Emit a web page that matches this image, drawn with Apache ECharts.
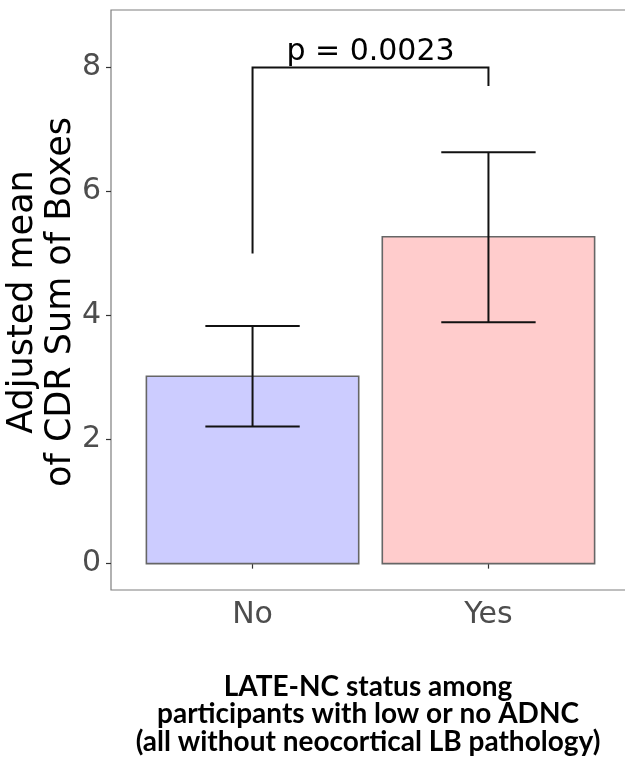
<!DOCTYPE html>
<html>
<head>
<meta charset="utf-8">
<script src="https://cdn.jsdelivr.net/npm/echarts@6/dist/echarts.min.js"></script>
<style>
  html, body { margin: 0; padding: 0; background: #ffffff; }
  #chart { width: 625px; height: 771px; }
</style>
</head>
<body>
<div id="chart"></div>
<script>
// ---- data ----
const categories = ['No', 'Yes'];
const catPos = [1, 2];
const meanValues = [3.02, 5.27];
const errLow = [2.21, 3.89];
const errHigh = [3.83, 6.63];
const barColors = ['#CCCCFF', '#FFCCCC'];
const yTicks = [0, 2, 4, 6, 8];
const bracketX = [1, 2];
const bracketY = [5.0, 8.0, 8.0, 7.7]; // left bottom, left top, right top, right bottom
const pLabel = 'p = 0.0023';
const yTitle = 'Adjusted mean\nof CDR Sum of Boxes';
const xTitle = 'LATE-NC status among\nparticipants with low or no ADNC\n(all without neocortical LB pathology)';

const barWidthUnits = 0.9;
const capWidthUnits = 0.4;
const FONT = 'DejaVu Sans';

const chart = echarts.init(document.getElementById('chart'), null, { renderer: 'canvas' });

const option = {
  animation: false,
  backgroundColor: '#ffffff',
  grid: {
    left: 111, top: 10, width: 519, height: 580,
    outerBoundsMode: 'none', containLabel: false,
    show: true, borderColor: '#7f7f7f', borderWidth: 1.2, backgroundColor: 'transparent'
  },
  xAxis: {
    type: 'value', min: 0.4, max: 2.6,
    axisLine: { show: false },
    splitLine: { show: false },
    axisTick: { show: true, length: 5, customValues: catPos, lineStyle: { color: '#333333', width: 1.2 } },
    axisLabel: {
      customValues: catPos,
      formatter: v => categories[catPos.indexOf(v)] || '',
      fontFamily: FONT, fontSize: 30, color: '#4d4d4d', margin: 10
    }
  },
  yAxis: {
    type: 'value', min: -0.425, max: 8.925,
    axisLine: { show: false },
    splitLine: { show: false },
    axisTick: { show: true, length: 5, customValues: yTicks, lineStyle: { color: '#333333', width: 1.2 } },
    axisLabel: {
      customValues: yTicks,
      fontFamily: FONT, fontSize: 30, color: '#4d4d4d', margin: 10
    }
  },
  graphic: [
    {
      type: 'text', x: 42, y: 302, rotation: Math.PI / 2,
      style: { text: yTitle, fontFamily: FONT, fontSize: 35, lineHeight: 38, fill: '#000000',
               align: 'center', verticalAlign: 'middle' }
    },
    {
      type: 'text', x: 368, y: 714,
      style: { text: xTitle, fontFamily: 'Lato', fontWeight: 'bold', fontSize: 28, lineHeight: 27.5, fill: '#000000',
               align: 'center', verticalAlign: 'middle' }
    }
  ],
  series: [
    {
      type: 'custom',
      data: catPos.map((x, i) => [x, meanValues[i]]),
      renderItem: function (params, api) {
        const i = params.dataIndex;
        const x = api.value(0), y = api.value(1);
        const p1 = api.coord([x - barWidthUnits / 2, y]);
        const p2 = api.coord([x + barWidthUnits / 2, 0]);
        return {
          type: 'rect',
          shape: { x: p1[0], y: p1[1], width: p2[0] - p1[0], height: p2[1] - p1[1] },
          style: { fill: barColors[i], stroke: '#666666', lineWidth: 1.6 }
        };
      },
      z: 2
    },
    {
      type: 'custom',
      data: catPos.map((x, i) => [x, errLow[i], errHigh[i]]),
      renderItem: function (params, api) {
        const x = api.value(0), lo = api.value(1), hi = api.value(2);
        const a = api.coord([x, lo]), b = api.coord([x, hi]);
        const l1 = api.coord([x - capWidthUnits / 2, lo]), r1 = api.coord([x + capWidthUnits / 2, lo]);
        const l2 = api.coord([x - capWidthUnits / 2, hi]), r2 = api.coord([x + capWidthUnits / 2, hi]);
        const st = { stroke: '#111111', lineWidth: 2 };
        return {
          type: 'group',
          children: [
            { type: 'line', shape: { x1: a[0], y1: a[1], x2: b[0], y2: b[1] }, style: st },
            { type: 'line', shape: { x1: l1[0], y1: l1[1], x2: r1[0], y2: r1[1] }, style: st },
            { type: 'line', shape: { x1: l2[0], y1: l2[1], x2: r2[0], y2: r2[1] }, style: st }
          ]
        };
      },
      z: 3
    },
    {
      type: 'custom',
      data: [[bracketX[0], bracketX[1]]],
      renderItem: function (params, api) {
        const xl = api.value(0), xr = api.value(1);
        const pts = [
          api.coord([xl, bracketY[0]]),
          api.coord([xl, bracketY[1]]),
          api.coord([xr, bracketY[2]]),
          api.coord([xr, bracketY[3]])
        ];
        const mid = api.coord([(xl + xr) / 2, bracketY[1]]);
        return {
          type: 'group',
          children: [
            { type: 'polyline', shape: { points: pts }, style: { stroke: '#111111', lineWidth: 2, fill: null } },
            { type: 'text', x: mid[0], y: mid[1] - 0.5,
              style: { text: pLabel, fontFamily: FONT, fontSize: 30, fill: '#000000', align: 'center', verticalAlign: 'bottom' } }
          ]
        };
      },
      z: 4
    }
  ]
};
chart.setOption(option);
</script>
</body>
</html>
